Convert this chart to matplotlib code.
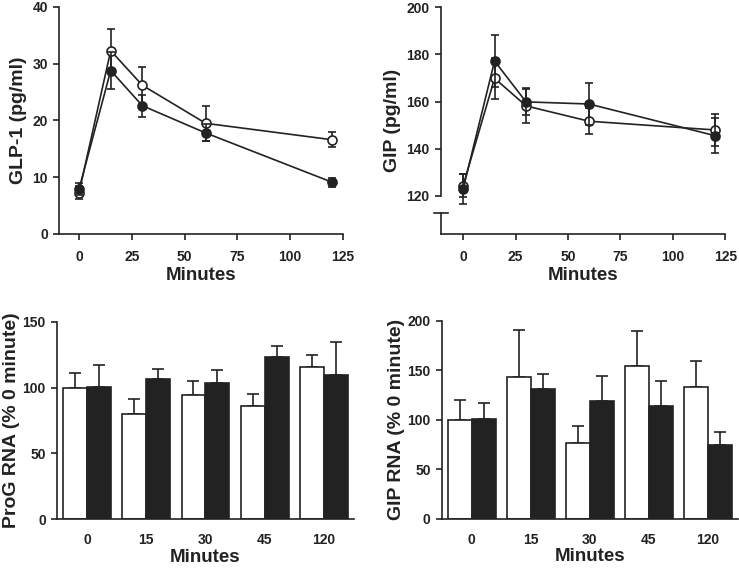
import numpy as np
import matplotlib
matplotlib.use('Agg')
import matplotlib.pyplot as plt

plt.rcParams['font.family'] = ['Liberation Sans', 'DejaVu Sans']
plt.rcParams['font.weight'] = 'bold'
plt.rcParams['axes.labelweight'] = 'bold'

# ---- data ----
t = [0, 15, 30, 60, 120]

glp_open = [7.3, 32.3, 26.2, 19.5, 16.6]
glp_open_err = [1.2, 3.8, 3.3, 3.1, 1.3]
glp_fill = [7.9, 28.8, 22.6, 17.8, 9.1]
glp_fill_err = [1.0, 3.2, 1.9, 1.5, 0.8]

gip_open = [124.4, 169.9, 158.2, 151.7, 148.0]
gip_open_err = [4.8, 8.8, 7.4, 5.4, 6.6]
gip_fill = [123.0, 177.2, 159.9, 159.0, 145.6]
gip_fill_err = [6.4, 11.1, 5.6, 8.7, 7.5]

cats = ['0', '15', '30', '45', '120']
prog_white = [100, 79.7, 94.6, 86.0, 115.9]
prog_white_err = [10.8, 11.6, 10.4, 9.1, 8.6]
prog_black = [100.2, 106.8, 103.5, 123.2, 109.5]
prog_black_err = [16.8, 7.6, 10.1, 8.1, 24.8]

giprna_white = [100, 142.8, 76.1, 153.9, 133.0]
giprna_white_err = [19.9, 47.8, 17.2, 36.0, 26.3]
giprna_black = [100.7, 131.0, 119.2, 113.5, 74.1]
giprna_black_err = [16.1, 14.8, 24.6, 25.2, 13.8]

fig = plt.figure(figsize=(7.39, 5.69), dpi=100)

tick_fs = 10
xlab_fs = 13.5
ylab_fs = 14
ink = '#222222'


def style(ax):
    for s in ['top', 'right']:
        ax.spines[s].set_visible(False)
    for s in ['left', 'bottom']:
        ax.spines[s].set_linewidth(1.2)
        ax.spines[s].set_color(ink)
    ax.tick_params(width=1.2, length=4.5, labelsize=tick_fs, colors=ink)
    ax.tick_params(axis='x', pad=7)
    plt.setp(ax.get_xticklabels() + ax.get_yticklabels(), fontweight='bold')


def line_panel(ax, yo, yoe, yf, yfe):
    ax.errorbar(t, yo, yerr=yoe, color=ink, lw=1.2, elinewidth=1.2,
                capsize=3.2, capthick=1.2, marker='o', ms=6.5,
                mfc='white', mec=ink, mew=1.2, zorder=3)
    ax.errorbar(t, yf, yerr=yfe, color=ink, lw=1.2, elinewidth=1.2,
                capsize=3.2, capthick=1.2, marker='o', ms=6.5,
                mfc=ink, mec=ink, mew=1.2, zorder=4)
    ax.set_xticks([0, 25, 50, 75, 100, 125])
    ax.set_xlabel('Minutes', fontsize=xlab_fs, color=ink, labelpad=2)


# Panel A
axA = fig.add_axes([0.0798, 0.5888, 0.3843, 0.3989])
line_panel(axA, glp_open, glp_open_err, glp_fill, glp_fill_err)
axA.set_xlim(-9.5, 125)
axA.set_ylim(0, 40)
axA.set_yticks([0, 10, 20, 30, 40])
axA.set_ylabel('GLP-1 (pg/ml)', fontsize=ylab_fs, color=ink)
style(axA)

# Panel B (broken y axis)
axB = fig.add_axes([0.5963, 0.5888, 0.3852, 0.3984])
line_panel(axB, gip_open, gip_open_err, gip_fill, gip_fill_err)
axB.set_xlim(-10.7, 125)
axB.set_ylim(103.9, 200)
axB.set_yticks([120, 140, 160, 180, 200])
axB.set_ylabel('GIP (pg/ml)', fontsize=ylab_fs, color=ink)
style(axB)
axB.spines['left'].set_bounds(120, 200)
trB = axB.get_yaxis_transform()
axB.plot([0, 0], [103.9, 112.8], color=ink, lw=1.2, transform=trB, clip_on=False)
axB.plot([-0.025, 0.025], [112.8, 112.8], color=ink, lw=1.2, transform=trB, clip_on=False)


def bar_panel(ax, w, we, b, be, ylim, yticks, ylabel):
    x = np.arange(len(cats))
    bw = 0.405
    ax.bar(x - bw / 2, w, bw, color='white', edgecolor=ink, lw=1.2, zorder=2)
    ax.bar(x + bw / 2, b, bw, color=ink, edgecolor=ink, lw=1.2, zorder=2)
    ax.errorbar(x - bw / 2, w, yerr=[np.zeros(len(w)), we], fmt='none',
                ecolor=ink, elinewidth=1.2, capsize=4.3, capthick=1.2, zorder=1)
    ax.errorbar(x + bw / 2, b, yerr=[np.zeros(len(b)), be], fmt='none',
                ecolor=ink, elinewidth=1.2, capsize=4.3, capthick=1.2, zorder=1)
    ax.set_xticks(x)
    ax.set_xticklabels(cats)
    ax.set_xlim(-0.51, 4.51)
    ax.set_ylim(*ylim)
    ax.set_yticks(yticks)
    ax.set_ylabel(ylabel, fontsize=ylab_fs, color=ink, labelpad=2)
    ax.set_xlabel('Minutes', fontsize=xlab_fs, color=ink, labelpad=1)
    style(ax)
    ax.tick_params(axis='x', length=0, pad=10)


axC = fig.add_axes([0.0771, 0.0873, 0.4019, 0.3473])
bar_panel(axC, prog_white, prog_white_err, prog_black, prog_black_err,
          (0, 150), [0, 50, 100, 150], 'ProG RNA (% 0 minute)')

axD = fig.add_axes([0.5977, 0.0884, 0.4009, 0.3480])
bar_panel(axD, giprna_white, giprna_white_err, giprna_black, giprna_black_err,
          (0, 200), [0, 50, 100, 150, 200], 'GIP RNA (% 0 minute)')

plt.savefig('out.png', dpi=100)
